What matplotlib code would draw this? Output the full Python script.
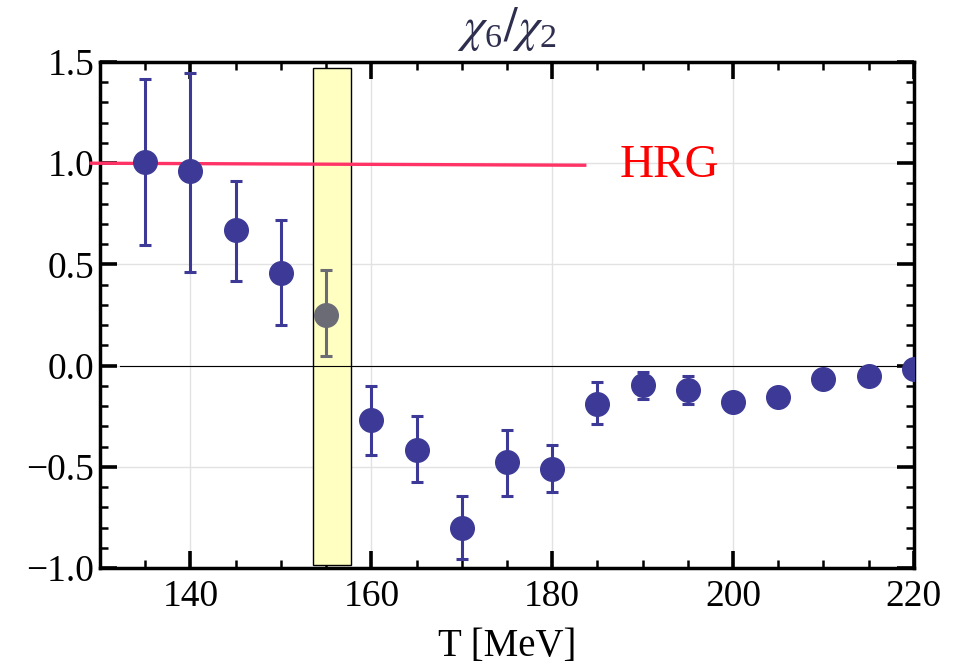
import matplotlib
matplotlib.use("Agg")
import matplotlib.pyplot as plt
from matplotlib.patches import Rectangle
from matplotlib.ticker import MultipleLocator

plt.rcParams["font.family"] = ["Liberation Serif", "DejaVu Serif"]
plt.rcParams["mathtext.fontset"] = "stix"

# chi6/chi2 lattice points (T in MeV)
T = [135, 140, 145, 150, 160, 165, 170, 175, 180, 185, 190, 195, 200, 205, 210, 215, 220]
ratio = [1.005, 0.96, 0.67, 0.46, -0.27, -0.415, -0.80, -0.475, -0.51, -0.19, -0.095, -0.12,
         -0.18, -0.155, -0.065, -0.05, -0.015]
err_lo = [0.41, 0.495, 0.25, 0.26, 0.17, 0.16, 0.155, 0.17, 0.115, 0.10, 0.07, 0.07,
          0.03, 0.02, 0.02, 0.02, 0.02]
err_hi = [0.41, 0.485, 0.24, 0.26, 0.17, 0.165, 0.155, 0.155, 0.12, 0.11, 0.065, 0.07,
          0.03, 0.02, 0.02, 0.02, 0.02]

# highlighted point inside the transition band
T_pc = [155]
ratio_pc = [0.25]
err_pc_lo = [0.20]
err_pc_hi = [0.225]

band_T = [153.6, 157.7]
band_y = [-0.985, 1.47]

hrg_T = [129.0, 183.6]
hrg_y = [1.0, 0.99]

fig = plt.figure(figsize=(9.59, 6.70), dpi=100)
ax = fig.add_axes([0.1043, 0.152, 0.8487, 0.7555])

ax.add_patch(Rectangle((band_T[0], band_y[0]), band_T[1] - band_T[0], band_y[1] - band_y[0],
                       facecolor="#ffffc2", edgecolor="black", lw=1.0, zorder=1))

ax.plot([132.2, 220], [0, 0], color="black", lw=0.8, zorder=2)

for xs, ys, lo, hi, col in [(T, ratio, err_lo, err_hi, "#3c3a96"),
                            (T_pc, ratio_pc, err_pc_lo, err_pc_hi, "#6b6b76")]:
    eb = ax.errorbar(xs, ys, yerr=[lo, hi], fmt="o", color=col, ms=17,
                     elinewidth=2.2, capsize=4, capthick=2.2, zorder=4)
    for art in eb.get_children():
        art.set_clip_on(True)

ax.plot(hrg_T, hrg_y, color="#ff3366", lw=2.4, zorder=3, clip_on=False)
ax.text(187.5, 0.985, "HRG", color="#ff0000", fontsize=34, va="center", ha="left")

ax.set_xlim(130, 220)
ax.set_ylim(-1.0, 1.5)
ax.xaxis.set_major_locator(MultipleLocator(20))
ax.xaxis.set_minor_locator(MultipleLocator(5))
ax.yaxis.set_major_locator(MultipleLocator(0.5))
ax.yaxis.set_minor_locator(MultipleLocator(0.1))
ax.yaxis.set_major_formatter(matplotlib.ticker.FuncFormatter(
    lambda v, p: f"{v:.1f}".replace("-", "\u2212")))

ax.tick_params(which="both", direction="in", top=True, right=True, labelsize=27, color="black")
ax.tick_params(which="major", length=12, width=2.6)
ax.tick_params(which="minor", length=6, width=1.8)
ax.tick_params(axis="x", pad=8)
ax.tick_params(axis="y", pad=4)
for s in ax.spines.values():
    s.set_linewidth(2.5)

ax.grid(True, which="major", color="#e2e2e2", lw=1.0, zorder=0)
ax.set_axisbelow(True)

ax.set_title(r"$\chi_{\mathregular{6}}/\chi_{\mathregular{2}}$", fontsize=35, color="#2e2e4e", pad=15)
ax.set_xlabel("T [MeV]", fontsize=28, labelpad=10)

fig.savefig("out.png", dpi=100)
